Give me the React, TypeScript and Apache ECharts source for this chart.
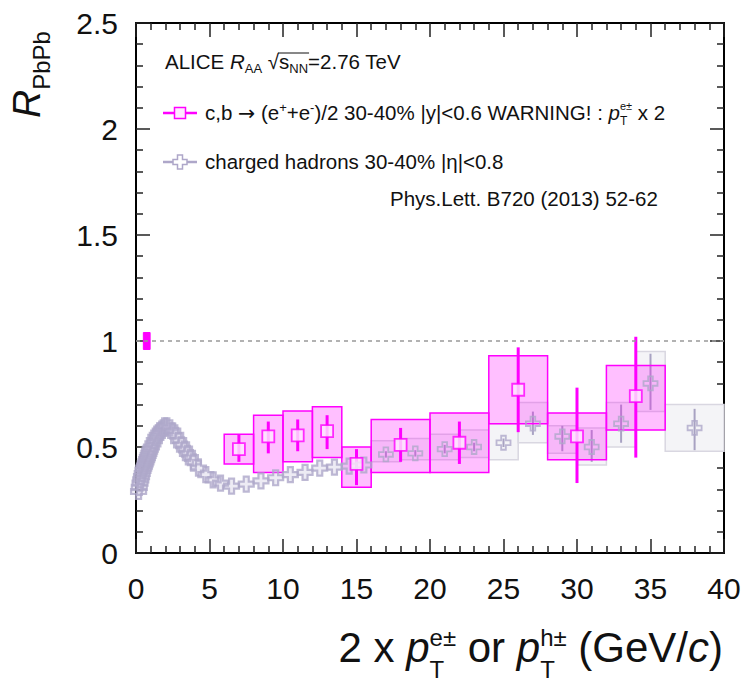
import React, { useEffect, useRef } from 'react';
import * as echarts from 'echarts';

// ---------------- data ----------------
const hadLowPt = [0.175, 0.225, 0.275, 0.325, 0.375, 0.425, 0.475, 0.525, 0.575, 0.625, 0.675, 0.725, 0.775, 0.825, 0.875, 0.925, 0.975, 1.05, 1.15, 1.25, 1.35, 1.45, 1.55, 1.65, 1.75, 1.85, 1.95, 2.1, 2.3, 2.5, 2.7, 2.9, 3.1, 3.3, 3.5, 3.7, 3.9, 4.25, 4.75, 5.25, 5.75, 6.5, 7.5, 8.5, 9.5, 10.5, 11.5, 12.5, 13.5, 14.5, 15.5];
const hadLowR = [0.29, 0.31, 0.33, 0.345, 0.36, 0.375, 0.39, 0.40, 0.41, 0.42, 0.43, 0.44, 0.45, 0.46, 0.47, 0.48, 0.49, 0.50, 0.515, 0.53, 0.545, 0.555, 0.565, 0.575, 0.585, 0.59, 0.6, 0.6, 0.59, 0.575, 0.555, 0.53, 0.51, 0.49, 0.47, 0.45, 0.43, 0.40, 0.37, 0.345, 0.33, 0.315, 0.325, 0.34, 0.355, 0.37, 0.38, 0.40, 0.405, 0.41, 0.415];

const hadHighPt = [17, 19, 21, 23, 25, 27, 29, 31, 33, 35, 38];
const hadHighR = [0.465, 0.47, 0.49, 0.50, 0.52, 0.61, 0.55, 0.50, 0.61, 0.80, 0.59];
const hadBinLo = [16, 18, 20, 22, 24, 26, 28, 30, 32, 34, 36];
const hadBinHi = [18, 20, 22, 24, 26, 28, 30, 32, 34, 36, 40];
const hadStatLo = [0.45, 0.455, 0.47, 0.48, 0.50, 0.557, 0.48, 0.43, 0.52, 0.675, 0.485];
const hadStatHi = [0.48, 0.485, 0.51, 0.52, 0.54, 0.667, 0.60, 0.58, 0.70, 0.94, 0.68];
const hadSysLo = [0.43, 0.44, 0.44, 0.45, 0.44, 0.52, 0.47, 0.415, 0.50, 0.667, 0.48];
const hadSysHi = [0.53, 0.54, 0.56, 0.58, 0.61, 0.71, 0.60, 0.59, 0.71, 0.95, 0.70];

const eleX = [7, 9, 11, 13, 15, 18, 22, 26, 30, 34];
const eleBinLo = [6, 8, 10, 12, 14, 16, 20, 24, 28, 32];
const eleBinHi = [8, 10, 12, 14, 16, 20, 24, 28, 32, 36];
const eleR = [0.49, 0.55, 0.555, 0.575, 0.42, 0.51, 0.52, 0.77, 0.55, 0.74];
const eleStatLo = [0.43, 0.47, 0.48, 0.49, 0.32, 0.43, 0.42, 0.57, 0.33, 0.45];
const eleStatHi = [0.56, 0.62, 0.63, 0.65, 0.49, 0.59, 0.62, 0.97, 0.78, 1.02];
const eleSysLo = [0.42, 0.38, 0.43, 0.45, 0.31, 0.38, 0.38, 0.61, 0.44, 0.58];
const eleSysHi = [0.56, 0.65, 0.67, 0.69, 0.50, 0.63, 0.66, 0.93, 0.66, 0.885];

const normBox = [0.5, 0.96, 0.96, 1.04]; // xlo, xhi, ylo, yhi

const xTicks = { min: 0, max: 40, step: 5 };
const yTicks = { min: 0, max: 2.5, step: 0.5 };

// ---------------- styling ----------------
const FONT = '"Liberation Sans", Arial, Helvetica, sans-serif';
const MAG = '#ff00ff';
const HAD = '#aea7c9';
const HAD_ERR = '#a8a2c2';
const CROSS = 'path://M-1,-3L1,-3L1,-1L3,-1L3,1L1,1L1,3L-1,3L-1,1L-3,1L-3,-1L-1,-1Z';

type Seg = { t: string; s: number; dy?: number; i?: boolean; ov?: boolean; fam?: string };

function layout(segs: Seg[], x0: number, base: number, align: 'left' | 'right', fill: string) {
  const ctx = document.createElement('canvas').getContext('2d') as CanvasRenderingContext2D;
  const fontOf = (g: Seg) => `${g.i ? 'italic ' : ''}${g.s}px ${g.fam || FONT}`;
  const pos: number[] = [];
  const ws: number[] = [];
  let x = 0;
  let ovW = 0;
  for (const g of segs) {
    ctx.font = fontOf(g);
    const w = ctx.measureText(g.t).width;
    ws.push(w);
    pos.push(x);
    if (g.ov) ovW = Math.max(ovW, w);
    else {
      x += Math.max(w, ovW);
      ovW = 0;
    }
  }
  const total = x + ovW;
  const start = align === 'left' ? x0 : x0 - total;
  const els = segs.map((g, k) => ({
    type: 'text',
    x: start + pos[k],
    y: base + (g.dy || 0) - 0.35 * g.s,
    silent: true,
    style: {
      text: g.t,
      font: fontOf(g),
      fill,
      textAlign: 'left',
      textVerticalAlign: 'middle',
      align: 'left',
      verticalAlign: 'middle',
    },
  }));
  return { els, pos: pos.map((p) => p + start), ws };
}

function boxSeries(data: number[][], fill: string, stroke: string, lw: number) {
  return {
    type: 'custom',
    silent: true,
    data,
    encode: { x: [0, 1], y: [2, 3] },
    renderItem: (_p: any, api: any) => {
      const a = api.coord([api.value(0), api.value(3)]);
      const b = api.coord([api.value(1), api.value(2)]);
      return {
        type: 'rect',
        shape: { x: a[0], y: a[1], width: b[0] - a[0], height: b[1] - a[1] },
        style: { fill, stroke, lineWidth: lw },
      };
    },
  };
}

function errSeries(data: number[][], color: string, lw: number) {
  return {
    type: 'custom',
    silent: true,
    data,
    encode: { x: 0, y: [1, 2] },
    renderItem: (_p: any, api: any) => {
      const a = api.coord([api.value(0), api.value(1)]);
      const b = api.coord([api.value(0), api.value(2)]);
      return {
        type: 'line',
        shape: { x1: a[0], y1: a[1], x2: b[0], y2: b[1] },
        style: { stroke: color, lineWidth: lw },
      };
    },
  };
}

function axisCommon(show: boolean, margin: number) {
  return {
    axisLine: { show: true, onZero: false, lineStyle: { color: '#000', width: 2 } },
    axisTick: { show: true, inside: true, length: 14, lineStyle: { color: '#222', width: 1.5 } },
    minorTick: { show: true, splitNumber: 5, length: 7, lineStyle: { color: '#222', width: 1.5 } },
    splitLine: { show: false },
    axisLabel: show
      ? { show: true, fontSize: 30, color: '#111', fontFamily: FONT, margin }
      : { show: false },
  };
}

export default function App() {
  const ref = useRef<HTMLDivElement>(null);
  useEffect(() => {
    if (!ref.current) return;
    const chart = echarts.init(ref.current, undefined, { renderer: 'svg' });

    const hadBoxes = hadHighPt.map((_, i) => [hadBinLo[i], hadBinHi[i], hadSysLo[i], hadSysHi[i]]);
    const hadErrs = hadHighPt.map((x, i) => [x, hadStatLo[i], hadStatHi[i]]);
    const eleBoxes = eleX.map((_, i) => [eleBinLo[i], eleBinHi[i], eleSysLo[i], eleSysHi[i]]);
    const eleErrs = eleX.map((x, i) => [x, eleStatLo[i], eleStatHi[i]]);

    // texts
    const L = 20.5;
    const S = 13;
    const line1 = layout(
      [
        { t: 'ALICE ', s: L },
        { t: 'R', s: L, i: true },
        { t: 'AA', s: S, dy: 4 },
        { t: ' \u221A', s: L },
        { t: 's', s: L },
        { t: 'NN', s: S, dy: 4 },
        { t: '=2.76 TeV', s: L },
      ],
      165,
      69,
      'left',
      '#111'
    );
    const sIdx = 4;
    const nnIdx = 5;
    const overline = {
      type: 'line',
      silent: true,
      shape: {
        x1: line1.pos[sIdx] - 1,
        y1: 69 - 0.78 * L,
        x2: line1.pos[nnIdx] + line1.ws[nnIdx] + 1,
        y2: 69 - 0.78 * L,
      },
      style: { stroke: '#111', lineWidth: 1 },
    };
    const line2 = layout(
      [
        { t: 'c,b ', s: L },
        { t: '\u2192', s: L, fam: '"DejaVu Sans", sans-serif' },
        { t: ' (e', s: L },
        { t: '+', s: S, dy: -8 },
        { t: '+e', s: L },
        { t: '-', s: S, dy: -8 },
        { t: ')/2 30-40% |y|<0.6 WARNING! : ', s: L },
        { t: 'p', s: L, i: true },
        { t: 'e\u00B1', s: 11, dy: -10, ov: true },
        { t: 'T', s: 12, dy: 5 },
        { t: ' x 2', s: L },
      ],
      205,
      120,
      'left',
      '#111'
    );
    const line3 = layout([{ t: 'charged hadrons 30-40% |\u03B7|<0.8', s: L }], 205, 169, 'left', '#111');
    const line4 = layout([{ t: 'Phys.Lett. B720 (2013) 52-62', s: L }], 390, 206, 'left', '#111');

    const T = 42;
    const TS = 24;
    const xTitle = layout(
      [
        { t: '2 x ', s: T },
        { t: 'p', s: T, i: true },
        { t: 'e\u00B1', s: TS, dy: -16, ov: true },
        { t: 'T', s: TS, dy: 16 },
        { t: ' or ', s: T },
        { t: 'p', s: T, i: true },
        { t: 'h\u00B1', s: TS, dy: -16, ov: true },
        { t: 'T', s: TS, dy: 16 },
        { t: ' (GeV/', s: T },
        { t: 'c', s: T, i: true },
        { t: ')', s: T },
      ],
      723,
      662,
      'right',
      '#111'
    );
    const yTitle = layout(
      [
        { t: 'R', s: 39, i: true },
        { t: 'PbPb', s: 24, dy: 10 },
      ],
      0,
      0,
      'left',
      '#111'
    );

    const graphics: any[] = [
      ...line1.els,
      overline,
      ...line2.els,
      ...line3.els,
      ...line4.els,
      ...xTitle.els,
      { type: 'group', x: 40, y: 118, rotation: Math.PI / 2, children: yTitle.els },
      // legend symbols
      { type: 'line', silent: true, shape: { x1: 163, y1: 113, x2: 197, y2: 113 }, style: { stroke: MAG, lineWidth: 2.5 } },
      { type: 'rect', silent: true, shape: { x: 174.5, y: 107.5, width: 11, height: 11 }, style: { fill: '#ffeaff', stroke: MAG, lineWidth: 1.5 } },
      { type: 'line', silent: true, shape: { x1: 163, y1: 162, x2: 197, y2: 162 }, style: { stroke: HAD, lineWidth: 2.5 } },
      {
        type: 'polygon',
        silent: true,
        shape: {
          points: [
            [177.5, 155], [182.5, 155], [182.5, 159.5], [187, 159.5], [187, 164.5], [182.5, 164.5], [182.5, 169], [177.5, 169], [177.5, 164.5], [173, 164.5], [173, 159.5], [177.5, 159.5],
          ],
        },
        style: { fill: '#fff', stroke: HAD, lineWidth: 1.5 },
      },
    ];

    const option: any = {
      animation: false,
      backgroundColor: '#fff',
      grid: { left: 136, right: 22, top: 23, bottom: 131, containLabel: false },
      xAxis: [
        { type: 'value', min: xTicks.min, max: xTicks.max, interval: xTicks.step, position: 'bottom', ...axisCommon(true, 20) },
        { type: 'value', min: xTicks.min, max: xTicks.max, interval: xTicks.step, position: 'top', ...axisCommon(false, 0) },
      ],
      yAxis: [
        { type: 'value', min: yTicks.min, max: yTicks.max, interval: yTicks.step, position: 'left', ...axisCommon(true, 18) },
        { type: 'value', min: yTicks.min, max: yTicks.max, interval: yTicks.step, position: 'right', ...axisCommon(false, 0) },
      ],
      graphic: { elements: graphics },
      series: [
        {
          type: 'line',
          silent: true,
          data: [[xTicks.min, 1], [xTicks.max, 1]],
          symbol: 'none',
          lineStyle: { color: '#999', width: 1.5, type: [4, 4] },
        },
        boxSeries(hadBoxes, '#f4f4f7', '#d9d7e1', 1.5),
        errSeries(hadErrs, HAD_ERR, 2),
        {
          type: 'scatter',
          silent: true,
          data: hadLowPt.map((x, i) => [x, hadLowR[i]]),
          symbol: CROSS,
          symbolSize: 15,
          itemStyle: { color: 'rgba(190,183,215,0.35)', borderColor: HAD, borderWidth: 2.2 },
        },
        {
          type: 'scatter',
          silent: true,
          data: hadHighPt.map((x, i) => [x, hadHighR[i]]),
          symbol: CROSS,
          symbolSize: 14,
          itemStyle: { color: 'rgba(255,255,255,0)', borderColor: HAD, borderWidth: 1.8 },
        },
        boxSeries(eleBoxes, 'rgba(255,0,255,0.25)', MAG, 1.5),
        errSeries(eleErrs, MAG, 3),
        {
          type: 'scatter',
          silent: true,
          data: eleX.map((x, i) => [x, eleR[i]]),
          symbol: 'rect',
          symbolSize: 12,
          itemStyle: { color: '#ffeaff', borderColor: MAG, borderWidth: 1.8 },
        },
        boxSeries([normBox], MAG, MAG, 1),
      ],
    };
    chart.setOption(option);
    return () => chart.dispose();
  }, []);
  return <div ref={ref} style={{ position: 'absolute', left: 0, top: 0, width: 746, height: 684 }} />;
}
